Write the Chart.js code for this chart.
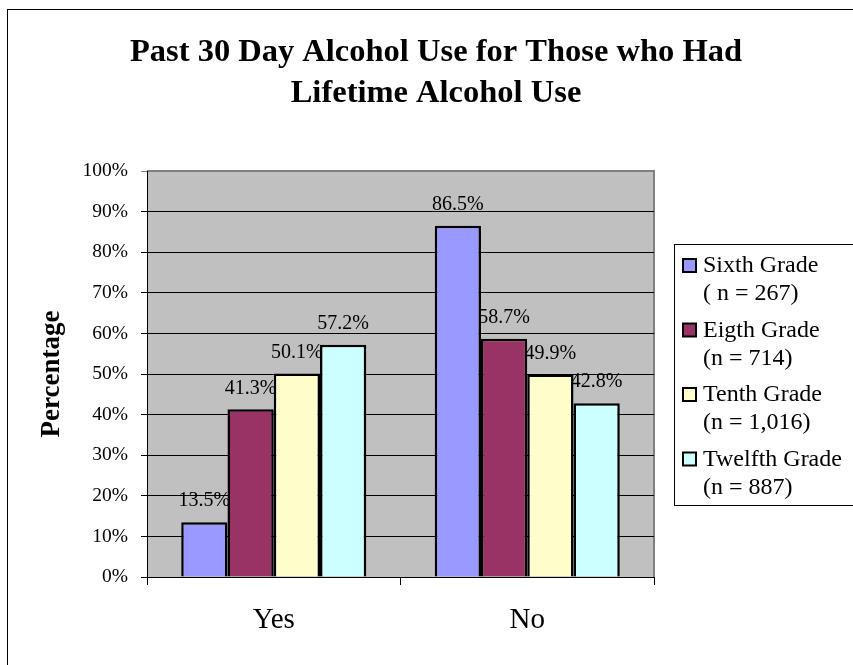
<!DOCTYPE html>
<html>
<head>
<meta charset="utf-8">
<script src="https://cdn.jsdelivr.net/npm/chart.js@4/dist/chart.umd.min.js"></script>
<style>
    html, body { margin: 0; padding: 0; background: #fff; }
    #wrap { width: 853px; height: 665px; position: relative; }
</style>
</head>
<body>
<div id="wrap"><canvas id="barChart"></canvas></div>
<script>
// Chart data
var chartTitle = ['Past 30 Day Alcohol Use for Those who Had', 'Lifetime Alcohol Use'];
var categories = ['Yes', 'No'];
var gradeNames = [['Sixth Grade', '( n = 267)'], ['Eigth Grade', '(n = 714)'], ['Tenth Grade', '(n = 1,016)'], ['Twelfth Grade', '(n = 887)']];
var sixthGrade = [13.5, 86.5];
var eighthGrade = [41.3, 58.7];
var tenthGrade = [50.1, 49.9];
var twelfthGrade = [57.2, 42.8];
var yTicks = [0, 10, 20, 30, 40, 50, 60, 70, 80, 90, 100];

var serif = '"Liberation Serif", "Times New Roman", serif';
var colors = ['#9999FF', '#993366', '#FFFFCC', '#CCFFFF'];

// Gray plot area + outer frame + title
var plotBackground = {
    id: 'plotBackground',
    beforeDraw: function (chart) {
        var ctx = chart.ctx, a = chart.chartArea;
        ctx.save();
        ctx.strokeStyle = '#000';
        ctx.lineWidth = 1;
        ctx.strokeRect(7.5, 9.5, 1000, 1000);
        ctx.fillStyle = '#C0C0C0';
        ctx.fillRect(a.left, a.top, a.right - a.left, a.bottom - a.top);
        ctx.strokeStyle = '#808080';
        ctx.lineWidth = 2;
        ctx.beginPath();
        ctx.moveTo(a.left, a.top);
        ctx.lineTo(a.right, a.top);
        ctx.lineTo(a.right, a.bottom);
        ctx.stroke();

        // title, centred on the outer frame
        ctx.fillStyle = '#000';
        ctx.font = 'bold 32.5px ' + serif;
        ctx.textAlign = 'center';
        ctx.textBaseline = 'alphabetic';
        chartTitle.forEach(function (line, i) {
            ctx.fillText(line, 436, 61 + i * 40.5);
        });
        ctx.restore();
    }
};

// Value labels above bars
var valueLabels = {
    id: 'valueLabels',
    afterDatasetsDraw: function (chart) {
        var ctx = chart.ctx;
        ctx.save();
        ctx.font = '20px ' + serif;
        ctx.fillStyle = '#000';
        ctx.textAlign = 'center';
        ctx.textBaseline = 'middle';
        chart.data.datasets.forEach(function (ds, i) {
            chart.getDatasetMeta(i).data.forEach(function (bar, j) {
                ctx.fillText(ds.data[j].toFixed(1) + '%', bar.x, bar.y - 21);
            });
        });
        ctx.restore();
    }
};

// Legend box on the right with two-line entries
var sideLegend = {
    id: 'sideLegend',
    afterDraw: function (chart) {
        var ctx = chart.ctx, a = chart.chartArea;
        var boxW = 220, boxH = 261;
        var left = a.right + 20;
        var top = Math.round((a.top + a.bottom) / 2 - boxH / 2);
        ctx.save();
        ctx.strokeStyle = '#000';
        ctx.lineWidth = 1;
        ctx.strokeRect(left + 0.5, top + 0.5, boxW, boxH);
        ctx.font = '24px ' + serif;
        ctx.textBaseline = 'middle';
        ctx.textAlign = 'left';
        chart.data.datasets.forEach(function (ds, i) {
            var y = top + 22 + i * 64.5;
            ctx.fillStyle = ds.backgroundColor;
            ctx.fillRect(left + 9, y - 7, 13, 13);
            ctx.lineWidth = 2;
            ctx.strokeRect(left + 9, y - 7, 13, 13);
            ctx.fillStyle = '#000';
            ds.label.forEach(function (line, k) {
                ctx.fillText(line, left + 29, y + k * 28);
            });
        });
        ctx.restore();
    }
};

var series = [sixthGrade, eighthGrade, tenthGrade, twelfthGrade];
var ctx = document.getElementById('barChart').getContext('2d');
var barChart = new Chart(ctx, {
    type: 'bar',
    data: {
        labels: categories,
        datasets: series.map(function (values, i) {
            return {
                label: gradeNames[i],
                data: values,
                backgroundColor: colors[i],
                borderColor: '#000',
                borderWidth: 2.5,
                borderSkipped: 'bottom',
                barPercentage: 1,
                categoryPercentage: 0.73
            };
        })
    },
    options: {
        responsive: true,
        maintainAspectRatio: false,
        animation: false,
        layout: { padding: { left: 10, right: 199, top: 171, bottom: 0 } },
        plugins: {
            legend: { display: false },
            tooltip: { enabled: false },
            title: { display: false }
        },
        scales: {
            x: {
                afterFit: function (scale) { scale.height = 88; },
                grid: { offset: true, drawOnChartArea: false, drawTicks: true, tickLength: 8, color: '#000' },
                border: { color: '#000', width: 1 },
                ticks: { color: '#000', padding: 18, font: { family: serif, size: 29 } }
            },
            y: {
                min: 0,
                max: 100,
                afterFit: function (scale) { scale.width = 137; },
                afterBuildTicks: function (scale) {
                    scale.ticks = yTicks.map(function (v) { return { value: v }; });
                },
                grid: {
                    color: function (c) { return c.tick && c.tick.value === 100 ? '#808080' : '#000'; },
                    tickLength: 6
                },
                border: { color: '#000', width: 1 },
                ticks: {
                    color: '#000',
                    padding: 13,
                    font: { family: serif, size: 19.5 },
                    callback: function (v) { return v + '%'; }
                },
                title: {
                    display: true,
                    text: 'Percentage',
                    color: '#000',
                    font: { family: serif, size: 27, weight: 'bold' },
                    padding: { top: 26, bottom: 0 }
                }
            }
        }
    },
    plugins: [plotBackground, valueLabels, sideLegend]
});
</script>
</body>
</html>
